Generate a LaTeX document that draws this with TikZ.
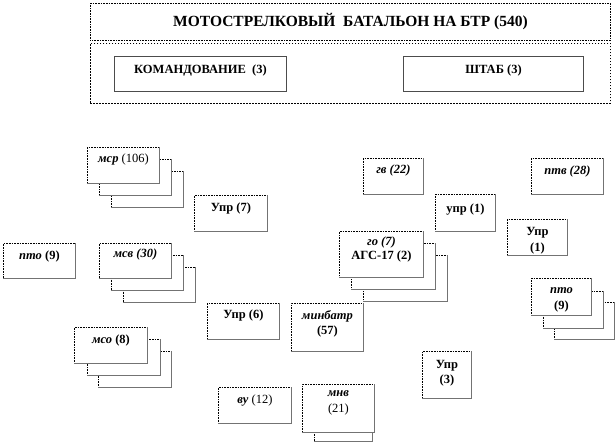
\documentclass[tikz,border=0pt]{standalone}
\usepackage{fontspec}
\setmainfont{Liberation Serif}
\tikzset{
  ubox/.style={draw=black, line width=0.9pt, dash pattern=on 0.9pt off 0.7pt, fill=white, anchor=north west, inner sep=0pt},
  shadowln/.style={draw=gray!90!black, line width=1.2pt},
  lbl/.style={anchor=north, inner sep=0pt, align=center, font=\fontsize{12.5}{14}\selectfont\bfseries},
  ttl/.style={font=\fontsize{15.5}{18}\selectfont\bfseries, inner sep=0pt},
  solidbox/.style={draw=gray!60!black, line width=1pt, fill=white, anchor=north west, inner sep=0pt},
}
\newcommand\UB[7][6]{%
  \node[ubox, minimum width=#5pt, minimum height=#6pt] (#2) at (#3,#4) {};
  \draw[shadowln] ([xshift=-0.6pt]#2.north east) -- ([xshift=-0.6pt,yshift=0.6pt]#2.south east) -- ([yshift=0.6pt]#2.south west);
  \node[lbl] (#2t) at ([yshift=-#1pt]#2.north) {#7};
}
\newcommand\EB[5]{%
  \node[ubox, minimum width=#4pt, minimum height=#5pt] (#1) at (#2,#3) {};
  \draw[shadowln] ([xshift=-0.6pt]#1.north east) -- ([xshift=-0.6pt,yshift=0.6pt]#1.south east) -- ([yshift=0.6pt]#1.south west);
}
\begin{document}
\begin{tikzpicture}[x=1pt,y=-1pt]
\useasboundingbox (0,0) rectangle (616,442);
% header
\node[draw=black, line width=0.9pt, dash pattern=on 0.9pt off 0.7pt, anchor=north west, minimum width=520pt, minimum height=37pt, inner sep=0pt] (title) at (90,3) {};
\node[ttl] (titlet) at (title.center) {МОТОСТРЕЛКОВЫЙ \ БАТАЛЬОН НА БТР (540)};
\node[draw=black, line width=0.9pt, dash pattern=on 1.6pt off 1.4pt, anchor=north west, minimum width=520pt, minimum height=60pt, inner sep=0pt] (hq) at (90,43) {};
\node[solidbox, minimum width=172pt, minimum height=35pt] (kom) at (114,56) {};
\node[lbl] (komt) at ([yshift=-9pt]kom.north) {КОМАНДОВАНИЕ \ (3)};
\node[solidbox, minimum width=180pt, minimum height=35pt] (sht) at (403,56) {};
\node[lbl] (shtt) at ([yshift=-9pt]sht.north) {ШТАБ (3)};
% мср stack
\EB{msrc}{111}{171}{72}{36}
\EB{msrb}{99}{159}{72}{36}
\UB[7]{msr}{87}{147}{72}{36}{\textit{мср} \mdseries(106)}
% Упр (7)
\UB[8]{upr7}{194}{195}{73}{36}{Упр (7)}
% пто (9) left
\UB[8]{ptoL}{3}{243}{72}{35}{\textit{пто} (9)}
% мсв stack
\EB{msvc}{123}{267}{72}{35}
\EB{msvb}{111}{255}{72}{35}
\UB{msv}{99}{243}{72}{35}{\textit{мсв (30)}}
% гв (22)
\UB[7]{gv}{363}{158}{60}{36}{\textit{гв (22)}}
% птв (28)
\UB[8]{ptv}{531}{158}{72}{36}{\textit{птв (28)}}
% упр (1)
\UB[10]{upr1a}{435}{194}{60}{37}{упр (1)}
% го stack
\EB{goc}{363}{255}{84}{46}
\EB{gob}{351}{243}{84}{46}
\UB{go}{339}{231}{84}{46}{\textit{го (7)}\\АГС-17 (2)}
% Упр (1)
\UB[8]{upr1b}{507}{219}{60}{36}{Упр\\[2pt](1)}
% пто right stack
\EB{ptoRc}{554}{302}{60}{37}
\EB{ptoRb}{543}{291}{60}{37}
\UB[9]{ptoR}{531}{278}{60}{37}{\textit{пто}\\[2pt](9)}
% Упр (6)
\UB[7]{upr6}{207}{303}{72}{36}{Упр (6)}
% минбатр
\UB[7]{minb}{291}{303}{72}{48}{\textit{минбатр}\\[1pt](57)}
% мсо stack
\EB{msoc}{98}{351}{73}{36}
\EB{msob}{87}{339}{73}{36}
\UB[8]{mso}{74}{327}{73}{36}{\textit{мсо} (8)}
% Упр (3)
\UB[9]{upr3}{422}{351}{49}{47}{Упр\\[1pt](3)}
% ву (12)
\UB[8]{vu}{218}{387}{73}{36}{\textit{ву} \mdseries(12)}
% мнв stack
\EB{mnvb}{314}{396}{58}{45}
\UB{mnv}{302}{384}{72}{48}{\textit{мнв}\\[2pt]\mdseries(21)}
\end{tikzpicture}
\end{document}
